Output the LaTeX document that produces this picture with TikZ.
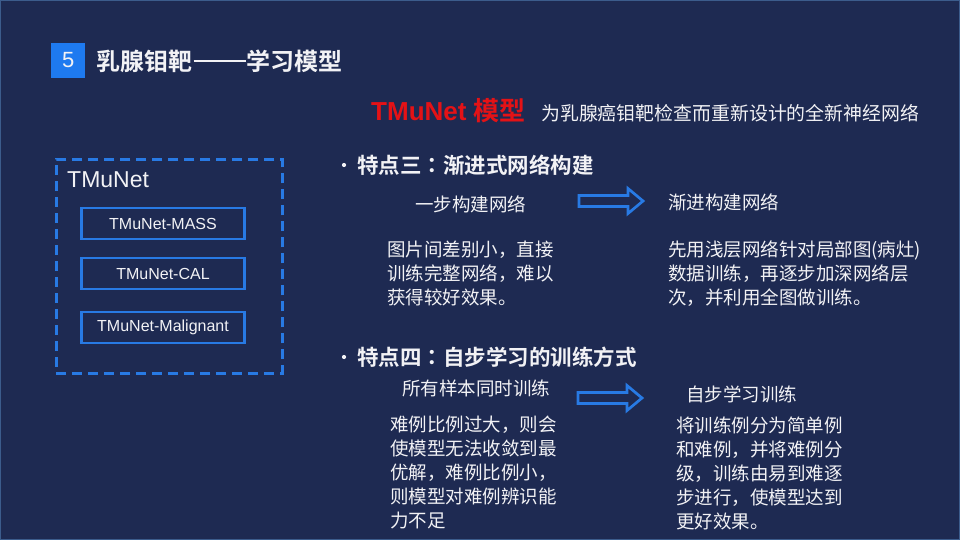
\documentclass[tikz,border=0pt]{standalone}
\usepackage{fontspec}
\setmainfont{Liberation Sans}
\newfontfamily\cjk{Noto Sans CJK SC}[BoldFont={Noto Sans CJK SC Bold}]
\newfontfamily\cjktc{Noto Sans CJK TC}[BoldFont={Noto Sans CJK TC Bold}]
\definecolor{bg}{RGB}{30,42,82}
\definecolor{edgec}{RGB}{60,92,140}
\definecolor{blueline}{RGB}{40,122,228}
\definecolor{sqblue}{RGB}{30,122,240}
\definecolor{redt}{RGB}{228,18,22}
\definecolor{txt}{RGB}{242,242,245}
\newcommand\myharrow[2]{\draw[harrow] (#1,#2) ++(0,-5.5) -- ++(49,0) -- ++(0,-7) -- ++(15,12.5) -- ++(-15,12.5) -- ++(0,-7) -- ++(-49,0) -- cycle;}
\newcommand\mycolon{{\cjktc ：}}
\tikzset{
  harrow/.style={draw=blueline, line width=2.7, line join=miter, fill=bg},
  dashbox/.style={draw=blueline, line width=2.8, dash pattern=on 10 off 6, minimum width=226, minimum height=214, anchor=north west},
  inbox/.style={draw=blueline, line width=2.5, minimum width=163, minimum height=31, font=\fontsize{16}{16}\selectfont},
  body/.style={font=\cjk\fontsize{18.5}{24}\selectfont},
  para/.style={body, align=left, anchor=north west},
  head/.style={font=\cjk\bfseries\fontsize{21.5}{22}\selectfont, anchor=west},
  bul/.style={circle, fill=txt, minimum size=4.2}
}
\begin{document}
\begin{tikzpicture}[x=1pt,y=-1pt, every node/.style={inner sep=0, text=txt}]
\fill[bg] (0,0) rectangle (960,540);
\draw[edgec, line width=1.2] (0.6,0.6) rectangle (959.4,539.4);
\useasboundingbox (0,0) rectangle (960,540);

% title
\node[fill=sqblue, minimum width=34, minimum height=35, anchor=north west, font=\fontsize{22}{22}\selectfont] (num) at (51,42.5) {5};
\node[anchor=west, font=\cjk\bfseries\fontsize{24}{24}\selectfont] (title) at (96,61) {乳腺钼靶\hspace{1.5pt}\rule[8pt]{52pt}{2.2pt}\hspace{1pt}学习模型};

% subtitle
\node[anchor=west, text=redt, font=\bfseries\fontsize{26}{26}\selectfont] (tm) at (371,111) {TMuNet {\cjk 模型}};
\node[anchor=west, font=\cjk\fontsize{18.9}{20}\selectfont] (sub) at (541,113) {为乳腺癌钼靶检查而重新设计的全新神经网络};

% left box
\node[dashbox] (frame) at (55,158) {};
\node[anchor=west, font=\fontsize{23}{23}\selectfont] (lbl) at (67,180) {TMuNet};
\node[inbox] (mass) at (163,223.5) {TMuNet-MASS};
\node[inbox] (cal) at (163,273.5) {TMuNet-CAL};
\node[inbox] (mal) at (163,327.5) {TMuNet-Malignant};

% feature three
\node[bul] (b3) at (344,165) {};
\node[head] (h3) at (357,165) {特点三\mycolon 渐进式网络构建};
\node[body, anchor=west] (l3) at (415,204) {一步构建网络};
\myharrow{579}{201}
\node[body, anchor=west] (r3) at (668,202) {渐进构建网络};
\node[para] (pl3) at (387,240.5) {图片间差别小，直接\\训练完整网络，难以\\获得较好效果。};
\node[para] (pr3) at (668,240.5) {先用浅层网络针对局部图(病灶)\\数据训练，再逐步加深网络层\\次，并利用全图做训练。};

% feature four
\node[bul] (b4) at (344,357) {};
\node[head] (h4) at (357,357) {特点四\mycolon 自步学习的训练方式};
\node[body, anchor=west] (l4) at (402,388) {所有样本同时训练};
\myharrow{578}{398}
\node[body, anchor=west] (r4) at (686,394) {自步学习训练};
\node[para] (pl4) at (390,415.5) {难例比例过大，则会\\使模型无法收敛到最\\优解，难例比例小，\\则模型对难例辨识能\\力不足};
\node[para] (pr4) at (676,416.5) {将训练例分为简单例\\和难例，并将难例分\\级，训练由易到难逐\\步进行，使模型达到\\更好效果。};
\end{tikzpicture}
\end{document}
